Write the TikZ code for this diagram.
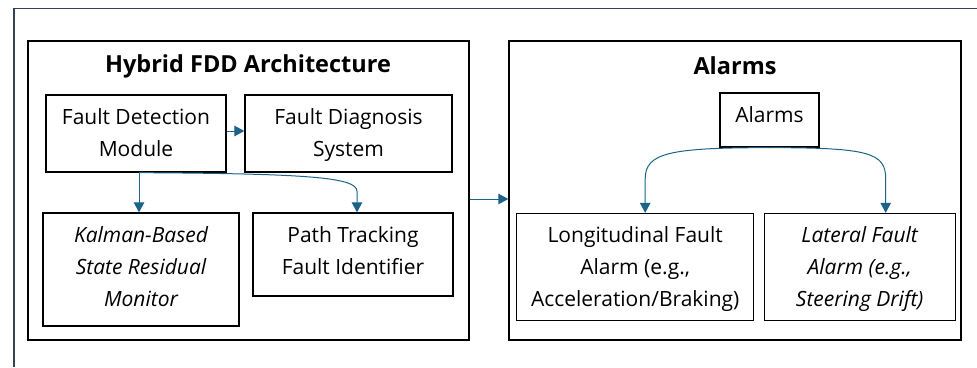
\documentclass[tikz,border=0pt]{standalone}
\usepackage{fontspec}
\setmainfont{Open Sans}
\usetikzlibrary{arrows.meta,calc}
\definecolor{framec}{RGB}{52,66,82}
\definecolor{arrc}{RGB}{27,99,136}
\tikzset{
  box/.style={draw=black, line width=1.3pt, rectangle, inner sep=0pt},
  lbl/.style={anchor=north, inner sep=0pt, align=center, font=\fontsize{21}{32}\selectfont},
  ttl/.style={inner sep=0pt, font=\fontsize{23.5}{28}\selectfont\bfseries},
  arr/.style={draw=arrc, line width=1pt, -{Triangle[width=10.5pt,length=10pt]}},
}
\begin{document}
\begin{tikzpicture}[x=1pt,y=-1pt]
\useasboundingbox (0,0) rectangle (977,367);
% outer frame
\coordinate (fbl) at (14,367);
\coordinate (ftl) at (14,8.5);
\coordinate (ftr) at (977,8.5);
\draw[framec, line width=1.5pt] (fbl) -- (ftl) -- (ftr);
% containers
\node[box, minimum width=441pt, minimum height=299pt] (left) at (248.5,190.5) {};
\node[box, minimum width=452pt, minimum height=299pt] (right) at (735,190.5) {};
\node[ttl] (ltitle) at (248,66) {Hybrid FDD Architecture};
\node[ttl] (rtitle) at (735,66) {Alarms};
% left inner boxes
\node[box, minimum width=180pt, minimum height=77pt] (fdm) at (136,133.5) {};
\node[box, minimum width=207pt, minimum height=77pt] (fds) at (348.5,133.5) {};
\node[box, minimum width=196pt, minimum height=113pt] (kal) at (141,269.5) {};
\node[box, minimum width=200pt, minimum height=83pt] (pt) at (353,254.5) {};
\node[lbl] (fdmt) at ($(fdm.north)+(0,13.5)$) {Fault Detection\\Module};
\node[lbl] (fdst) at ($(fds.north)+(0,13.5)$) {Fault Diagnosis\\System};
\node[lbl] (kalt) at ($(kal.north)+(0,13.5)$) {\itshape Kalman-Based\\\itshape State Residual\\\itshape Monitor};
\node[lbl] (ptt) at ($(pt.north)+(0,13.5)$) {Path Tracking\\Fault Identifier};
% right inner boxes
\node[box, minimum width=99pt, minimum height=54pt] (al) at (769.5,120) {};
\node[box, minimum width=237pt, minimum height=107pt] (lon) at (635.2,267) {};
\node[box, minimum width=191pt, minimum height=107pt] (lat) at (859.7,267) {};
\node[lbl] (alt) at ($(al.north)+(0,13.5)$) {Alarms};
\node[lbl] (lont) at ($(lon.north)+(0,13.5)$) {Longitudinal Fault\\Alarm (e.g.,\\Acceleration/Braking)};
\node[lbl] (latt) at ($(lat.north)+(0,13.5)$) {\itshape Lateral Fault\\\itshape Alarm (e.g.,\\\itshape Steering Drift)};
% connectors
\draw[arr] ([yshift=2.5pt]fdm.east) -- ([yshift=2.5pt]fdm.east -| fds.west);
\coordinate (s1) at ($(fdm.south)+(3,0)$);
\draw[arr] (s1) -- (s1 |- kal.north);
\coordinate (c1) at ($(pt.north)+(4,-21)$);
\draw[arr] (s1) .. controls +(170,1) and +(0,-14) .. (c1) -- (c1 |- pt.north);
\draw[arr] ([yshift=-8.5pt]left.east) -- ([yshift=-8.5pt]left.east -| right.west);
\coordinate (c2) at ($(lon.north)+(10,-34)$);
\coordinate (c3) at ($(lat.north)+(26,-34)$);
\draw[arr] (al.south) .. controls +(-100,0) and +(0,-26) .. (c2) -- (c2 |- lon.north);
\draw[arr] (al.south) .. controls +(100,0) and +(0,-26) .. (c3) -- (c3 |- lat.north);
\end{tikzpicture}
\end{document}
